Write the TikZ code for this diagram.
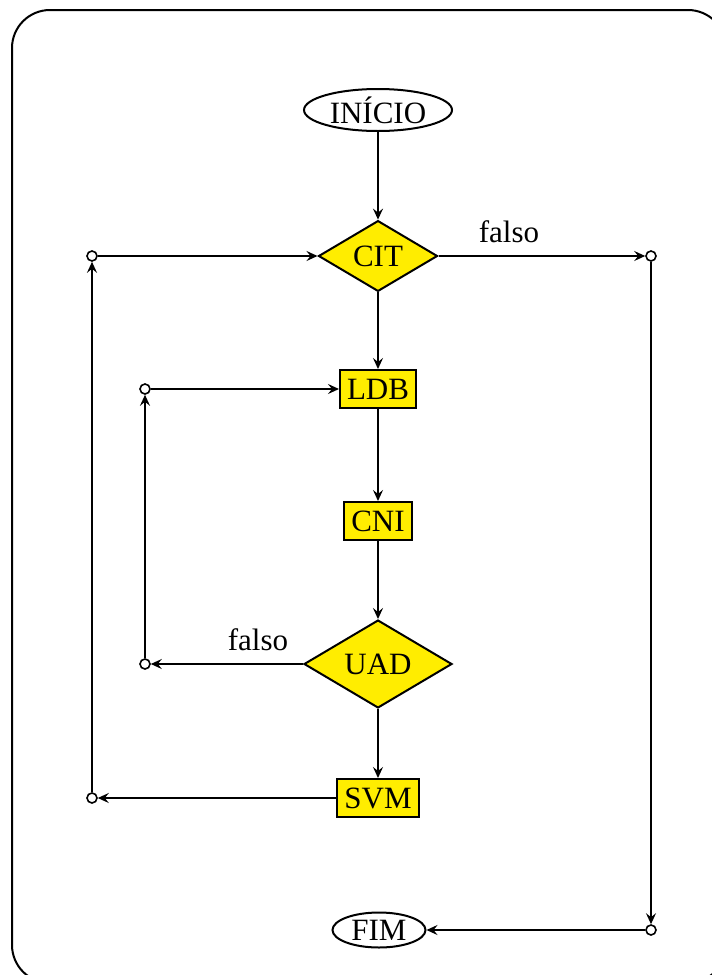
\documentclass[tikz,border=0pt]{standalone}
\usepackage{fontspec}
\setmainfont{Liberation Serif}
\usetikzlibrary{shapes.geometric,arrows.meta}
\definecolor{boxyellow}{RGB}{255,237,0}
\tikzset{
  every node/.style={font=\fontsize{15.5}{18}\selectfont},
  terminal/.style={draw,ellipse,line width=1pt,inner sep=0pt},
  decision/.style={draw,diamond,fill=boxyellow,line width=1pt,inner sep=0pt},
  process/.style={draw,rectangle,fill=boxyellow,line width=1pt,inner xsep=3.5pt,inner ysep=0pt,minimum height=19pt},
  junction/.style={draw,circle,fill=white,line width=0.8pt,inner sep=0pt,minimum size=5pt},
  flow/.style={line width=1pt,-{Stealth[length=5.5pt,width=5pt,inset=2pt]}},
  label/.style={inner sep=0pt}
}
\begin{document}
\begin{tikzpicture}[x=0.5pt,y=-0.5pt]
  \useasboundingbox (0,0) rectangle (712,975);
  % outer frame
  \draw[line width=1pt,rounded corners=19pt] (12,10) rectangle (726,983);

  % main column
  \node[terminal,minimum width=74pt,minimum height=21pt] (inicio) at (378,110) {INÍCIO};
  \node[decision,minimum width=59.5pt,minimum height=33.5pt] (cit) at (378,256) {CIT};
  \node[process] (ldb) at (378,389) {LDB};
  \node[process] (cni) at (378,521) {CNI};
  \node[decision,minimum width=74pt,minimum height=33pt] (uad) at (378,664) {UAD};
  \node[process] (svm) at (378,798) {SVM};
  \node[terminal,minimum width=46.5pt,minimum height=17.5pt] (fim) at (379,930) {FIM};

  % junction points
  \node[junction] (jtl) at (92,256) {};
  \node[junction] (jtr) at (651,256) {};
  \node[junction] (jml) at (145,389) {};
  \node[junction] (jul) at (145,664) {};
  \node[junction] (jbl) at (92,798) {};
  \node[junction] (jbr) at (651,930) {};

  % downward flow
  \draw[flow] (inicio) -- (cit);
  \draw[flow] (cit) -- (ldb);
  \draw[flow] (ldb) -- (cni);
  \draw[flow] (cni) -- (uad);
  \draw[flow] (uad) -- (svm);

  % exit branch
  \draw[flow] (cit) -- (jtr);
  \node[label] (f1) at (509,232) {falso};
  \draw[flow] (jtr) -- (jbr);
  \draw[flow] (jbr) -- (fim);

  % outer loop
  \draw[flow] (svm) -- (jbl);
  \draw[flow] (jbl) -- (jtl);
  \draw[flow] (jtl) -- (cit);

  % inner loop
  \draw[flow] (uad) -- (jul);
  \node[label] (f2) at (258,640) {falso};
  \draw[flow] (jul) -- (jml);
  \draw[flow] (jml) -- (ldb);
\end{tikzpicture}
\end{document}
